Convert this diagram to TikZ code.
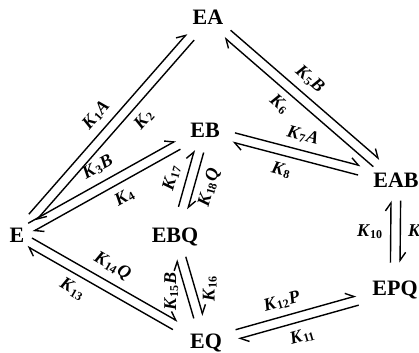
\documentclass[tikz,border=0pt]{standalone}
\usepackage{fontspec}
\setmainfont{Liberation Serif}
\usetikzlibrary{arrows.meta}
\newcommand{\krate}[2]{\textit{K}\textsubscript{#1}\textit{#2}}

\begin{document}
\begin{tikzpicture}[
      x=0.5pt, y=-0.5pt,
      species/.style={font=\fontsize{11}{13}\selectfont\bfseries, inner sep=2pt},
      rate/.style={font=\fontsize{9}{10}\selectfont\bfseries, inner sep=3.5pt},
      rxn/.style={-{Straight Barb[left, length=4pt, width=5.5pt]}, line width=0.7pt,
                  transform canvas={shift={(#1+90:2.4pt)}}},
      ends/.style 2 args={shorten <=#1, shorten >=#2}
    ]
    \useasboundingbox (0,0) rectangle (419,353);
    \node[species] (E)   at (17,235)  {E};
    \node[species] (EA)  at (208,17)  {EA};
    \node[species] (EB)  at (205,130) {EB};
    \node[species] (EAB) at (396,180) {EAB};
    \node[species] (EBQ) at (175,237) {EBQ};
    \node[species] (EQ)  at (206,343) {EQ};
    \node[species] (EPQ) at (395,290) {EPQ};

    \draw[rxn=48.8,  ends={4pt}{5.5pt}] (E)   -- node[rate, sloped, above, pos=0.49] {\krate{1}{A}} (EA);
    \draw[rxn=228.8, ends={5.5pt}{4pt}] (EA)  -- node[rate, sloped, below, pos=0.4]  {\krate{2}{}} (E);
    \draw[rxn=29.2,  ends={1pt}{4.5pt}] (E)   -- node[rate, sloped, above, pos=0.5]  {\krate{3}{B}} (EB);
    \draw[rxn=209.2, ends={4.5pt}{1pt}] (EB)  -- node[rate, sloped, below, pos=0.45] {\krate{4}{}} (E);
    \draw[rxn=-29.7, ends={0.5pt}{6pt}] (E)   -- node[rate, sloped, above, pos=0.47] {\krate{14}{Q}} (EQ);
    \draw[rxn=150.3, ends={6pt}{0.5pt}] (EQ)  -- node[rate, sloped, below, pos=0.66] {\krate{13}{}} (E);
    \draw[rxn=-40.9, ends={4pt}{4pt}]   (EA)  -- node[rate, sloped, above, pos=0.47] {\krate{5}{B}} (EAB);
    \draw[rxn=139.1, ends={4pt}{4pt}]   (EAB) -- node[rate, sloped, below, pos=0.56] {\krate{6}{}} (EA);
    \draw[rxn=-14.7, ends={5pt}{5pt}]   (EB)  -- node[rate, sloped, above, pos=0.51] {\krate{7}{A}} (EAB);
    \draw[rxn=165.3, ends={5pt}{5pt}]   (EAB) -- node[rate, sloped, below, pos=0.57] {\krate{8}{}} (EB);
    \draw[rxn=254.3, ends={5pt}{8pt}]   (EB)  -- node[rate, sloped, below, pos=0.5]  {\krate{18}{Q}} (EBQ);
    \draw[rxn=74.3,  ends={8pt}{5pt}]   (EBQ) -- node[rate, sloped, above, pos=0.5]  {\krate{17}{}} (EB);
    \draw[rxn=-73.7, ends={4pt}{6.5pt}] (EBQ) -- node[rate, rotate=90, anchor=north, pos=0.5] {\krate{16}{}} (EQ);
    \draw[rxn=106.3, ends={6.5pt}{4pt}] (EQ)  -- node[rate, rotate=90, anchor=south, pos=0.5] {\krate{15}{B}} (EBQ);
    \draw[rxn=-90,   ends={4.5pt}{7pt}] (EAB) -- node[rate, right, pos=0.47] {\krate{9}{}} (EPQ);
    \draw[rxn=90,    ends={7pt}{4.5pt}] (EPQ) -- node[rate, left, pos=0.53]  {\krate{10}{}} (EAB);
    \draw[rxn=15.7,  ends={5.5pt}{5.5pt}] (EQ)  -- node[rate, sloped, above, pos=0.43] {\krate{12}{P}} (EPQ);
    \draw[rxn=195.7, ends={5.5pt}{5.5pt}] (EPQ) -- node[rate, sloped, below, pos=0.5]  {\krate{11}{}} (EQ);
  \end{tikzpicture}
\end{document}
